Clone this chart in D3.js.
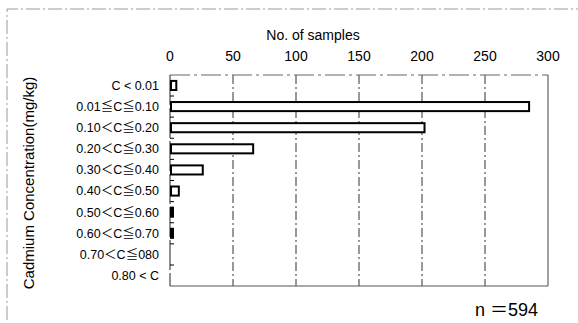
<!DOCTYPE html>
<html>
<head>
<meta charset="utf-8">
<script src="https://cdn.jsdelivr.net/npm/d3@7"></script>
<style>
  body { margin: 0; background: #fff; }
  text { font-family: "Liberation Sans", Arial, "Noto Sans CJK JP", sans-serif; fill: #000; }
</style>
</head>
<body>
<svg width="578" height="323"></svg>
<script>
const categories = [
  "C < 0.01",
  "0.01≦C≦0.10",
  "0.10＜C≦0.20",
  "0.20＜C≦0.30",
  "0.30＜C≦0.40",
  "0.40＜C≦0.50",
  "0.50＜C≦0.60",
  "0.60＜C≦0.70",
  "0.70＜C≦080",
  "0.80 < C"
];
const samples = [5, 285, 202, 66, 26, 7, 2, 1, 0, 0];
const xTicks = [0, 50, 100, 150, 200, 250, 300];
const total = 594;

const data = categories.map((c, i) => ({ cat: c, n: samples[i] }));

const svg = d3.select("svg");
const margin = { top: 75, right: 30, bottom: 37, left: 170 };
const width = 578 - margin.left - margin.right;
const height = 323 - margin.top - margin.bottom;

// faint outer frame (scan edge)
svg.append("path")
  .attr("d", "M7,320 V9 H578")
  .attr("fill", "none")
  .attr("stroke", "#999")
  .attr("stroke-dasharray", "14,3,2,3");

const g = svg.append("g").attr("transform", `translate(${margin.left},${margin.top})`);

const x = d3.scaleLinear().domain([0, 300]).range([0, width]);
const y = d3.scaleBand().domain(categories).range([0, height]).paddingInner(0.57).paddingOuter(0.28);

// grid lines
g.append("g")
  .selectAll("line")
  .data(xTicks.filter(d => d > 0 && d < 300))
  .enter()
  .append("line")
  .attr("x1", d => x(d))
  .attr("x2", d => x(d))
  .attr("y1", 0)
  .attr("y2", height)
  .attr("stroke", "#333")
  .attr("stroke-dasharray", "9,3,2,3");

// plot frame
g.append("line").attr("x1", 0).attr("x2", width).attr("y1", 0).attr("y2", 0)
  .attr("stroke", "#666").attr("stroke-dasharray", "20,4,3,4");
g.append("line").attr("x1", 0).attr("x2", width).attr("y1", height).attr("y2", height)
  .attr("stroke", "#555");
g.append("line").attr("x1", width).attr("x2", width).attr("y1", 0).attr("y2", height)
  .attr("stroke", "#444");
g.append("line").attr("x1", 0).attr("x2", 0).attr("y1", 0).attr("y2", height)
  .attr("stroke", "#222").attr("stroke-dasharray", "30,3");

// top axis labels
g.append("g")
  .selectAll("text")
  .data(xTicks)
  .enter()
  .append("text")
  .attr("x", d => x(d))
  .attr("y", -14)
  .attr("text-anchor", "middle")
  .style("font-size", "14px")
  .text(d => d);

// small ticks on the category axis
g.append("g")
  .selectAll("line")
  .data(categories.slice(1))
  .enter()
  .append("line")
  .attr("x1", 0)
  .attr("x2", 4)
  .attr("y1", d => y(d) - y.step() * y.paddingInner() / 2)
  .attr("y2", d => y(d) - y.step() * y.paddingInner() / 2)
  .attr("stroke", "#000");

// bars
g.append("g")
  .selectAll("rect")
  .data(data.filter(d => d.n > 0))
  .enter()
  .append("rect")
  .attr("x", 1)
  .attr("y", d => y(d.cat))
  .attr("width", d => Math.max(x(d.n) - 1, 2))
  .attr("height", y.bandwidth())
  .attr("fill", "#fff")
  .attr("stroke", "#000")
  .attr("stroke-width", 2);

// category labels
g.append("g")
  .selectAll("text")
  .data(categories)
  .enter()
  .append("text")
  .attr("x", -11)
  .attr("y", d => y(d) + y.bandwidth() / 2)
  .attr("dy", "0.35em")
  .attr("text-anchor", "end")
  .style("font-size", "12.5px")
  .text(d => d);

// axis titles
svg.append("text")
  .attr("x", margin.left + width / 2 - 46)
  .attr("y", 40)
  .attr("text-anchor", "middle")
  .style("font-size", "14px")
  .text("No. of samples");

svg.append("text")
  .attr("transform", "translate(34,183) rotate(-90)")
  .attr("text-anchor", "middle")
  .style("font-size", "15px")
  .text("Cadmium Concentration(mg/kg)");

svg.append("text")
  .attr("x", 538)
  .attr("y", 316)
  .attr("text-anchor", "end")
  .style("font-size", "18px")
  .text("n ＝" + total);
</script>
</body>
</html>
